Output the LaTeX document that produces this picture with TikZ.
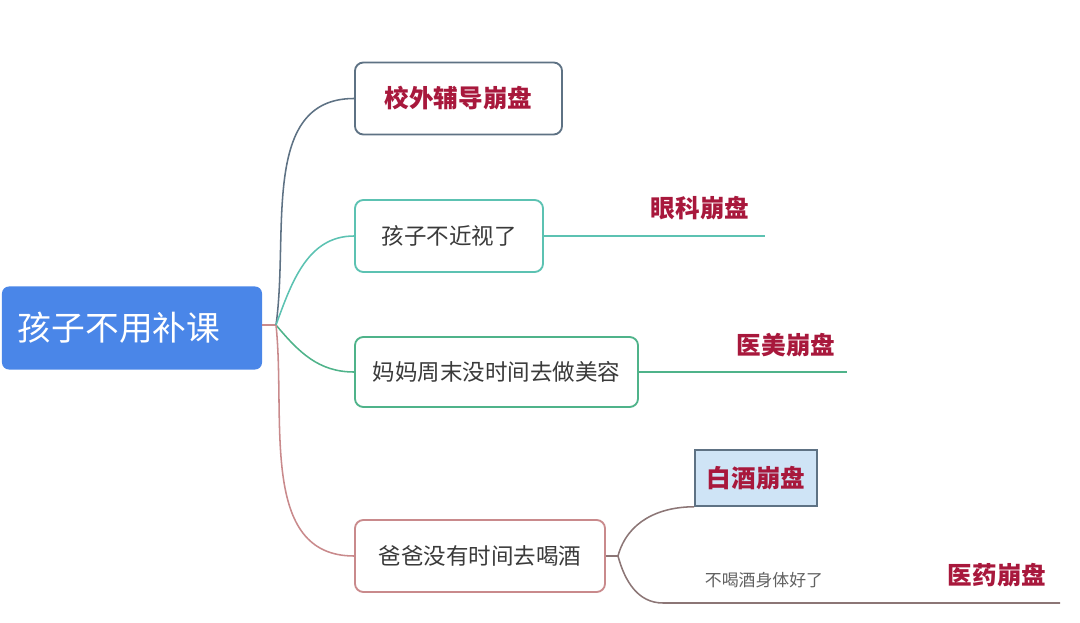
\documentclass[tikz,border=0pt]{standalone}
\usepackage{fontspec}
\setmainfont{Noto Sans CJK SC}
\usepackage{tikz}
\usetikzlibrary{positioning, calc}

\definecolor{rootblue}{HTML}{4A86E8}
\definecolor{slateline}{HTML}{5E7284}
\definecolor{tealline}{HTML}{5CC2B2}
\definecolor{greenline}{HTML}{4FB38A}
\definecolor{roseline}{HTML}{C98A8C}
\definecolor{brownline}{HTML}{8C7676}
\definecolor{crashred}{HTML}{A8183C}
\definecolor{paleblue}{HTML}{CFE4F6}
\definecolor{greytext}{HTML}{3A3A3A}

\tikzset{
  root/.style    = {rectangle, rounded corners=5pt, fill=rootblue,
                    minimum width=6.5cm, minimum height=2.075cm,
                    text width=5.7cm, align=left, inner xsep=0.4cm,
                    text=white, font=\fontsize{24}{26}\selectfont},
  topic/.style   = {draw, rectangle, rounded corners=6pt, line width=1.3pt,
                    fill=white, minimum height=1.8cm, inner sep=0pt,
                    text=greytext, font=\fontsize{16}{18}\selectfont},
  crash/.style   = {text=crashred, inner sep=1pt,
                    font=\fontsize{17.5}{19}\bfseries\selectfont},
  note/.style    = {text=greytext!80, inner sep=1pt,
                    font=\fontsize{12}{14}\selectfont},
  branch/.style  = {line width=1.1pt},
}

\begin{document}
\begin{tikzpicture}[x=0.025cm, y=-0.025cm]
  \useasboundingbox (0,0) rectangle (1080,623);

  % ---------- root --------------------------------------------------
  \node[root] (root) at (132,328) {孩子不用补课};
  \coordinate (hub) at (276,325);
  \draw[branch, roseline] (root.east |- hub) -- (hub);

  % ---------- first level topics ------------------------------------
  \node[topic, draw=slateline, minimum width=5.175cm, text=crashred,
        font=\fontsize{17.5}{19}\bfseries\selectfont] (tutor) at (458.5,98.5) {校外辅导崩盘};
  \node[topic, draw=tealline, minimum width=4.7cm] (eyes) at (449,236) {孩子不近视了};
  \node[topic, draw=greenline, minimum width=7.075cm, minimum height=1.75cm] (mom) at (496.5,372) {妈妈周末没时间去做美容};
  \node[topic, draw=roseline, minimum width=6.25cm] (dad) at (480,556) {爸爸没有时间去喝酒};

  \draw[branch, slateline] (hub) to[out=82, in=180] (tutor.west);
  \draw[branch, tealline]  (hub) to[out=70, in=180] (eyes.west);
  \draw[branch, greenline] (hub) to[out=-50, in=180] (mom.west);
  \draw[branch, roseline]  (hub) to[out=-84, in=180] (dad.west);

  % ---------- eye clinics -------------------------------------------
  \coordinate (eyesend) at (765,236);
  \draw[branch, tealline] (eyes.east) -- (eyesend);
  \node[crash] (eyecrash) at (700,208) {眼科崩盘};

  % ---------- beauty ------------------------------------------------
  \coordinate (momend) at (847,372);
  \draw[branch, greenline] (mom.east) -- (momend);
  \node[crash] (beautycrash) at (786,345) {医美崩盘};

  % ---------- liquor / medicine -------------------------------------
  \node[draw=slateline, fill=paleblue, line width=1.1pt, rectangle,
        minimum width=3.05cm, minimum height=1.4cm, crash,
        text=crashred] (liquor) at (756,478) {白酒崩盘};
  \coordinate (dadhub) at (618,556);
  \coordinate (healthend) at (1060,603);
  \draw[branch, brownline] (dad.east) -- (dadhub);
  \draw[branch, brownline] (dadhub) to[out=75, in=180] (liquor.south west);
  \draw[branch, brownline] (dadhub) to[out=-75, in=180] ($(dadhub)+(45,47)$) -- (healthend);
  \node[note] (health) at (764,580) {不喝酒身体好了};
  \node[crash] (medcrash) at (997,575) {医药崩盘};
\end{tikzpicture}
\end{document}
